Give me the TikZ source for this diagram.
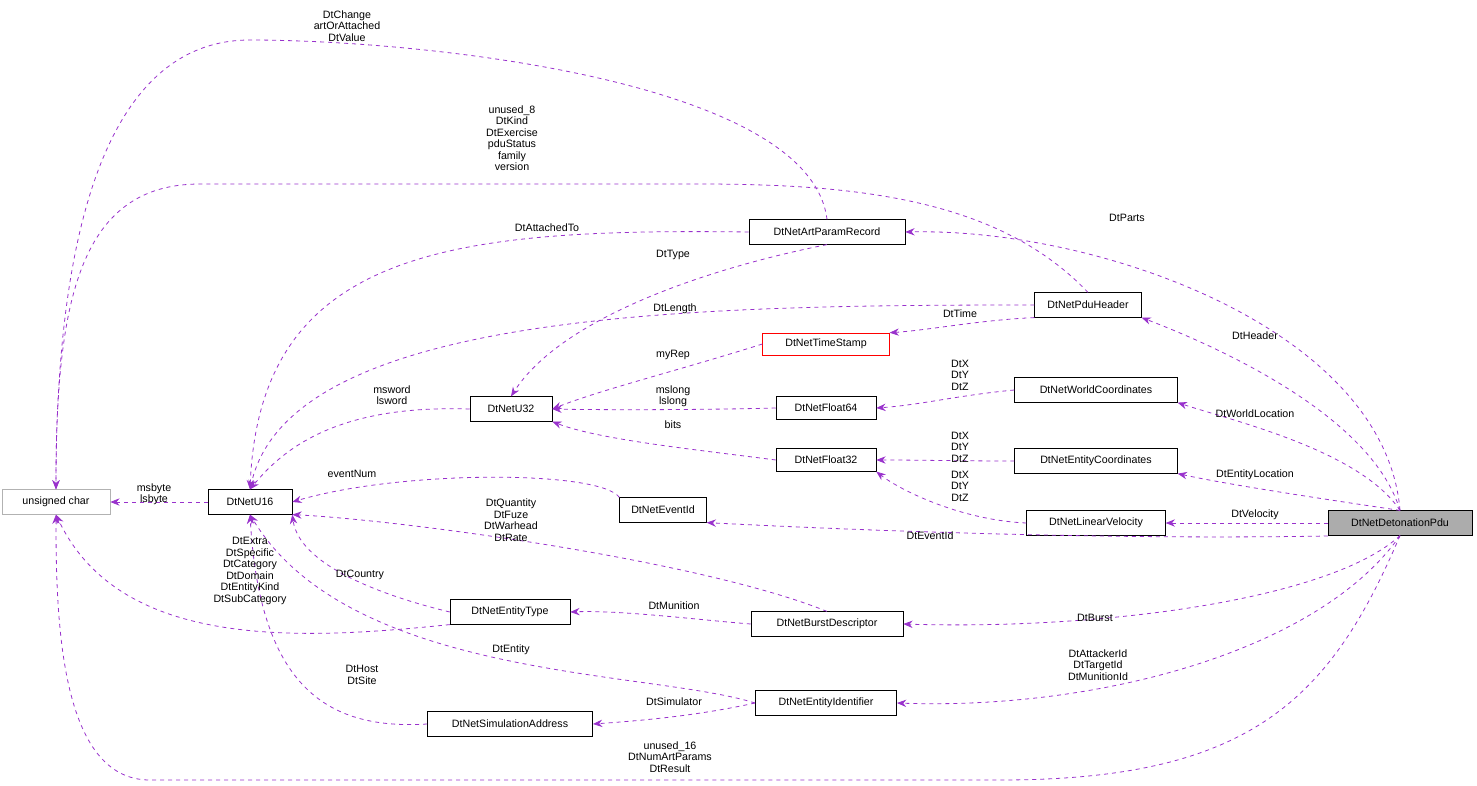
\documentclass[tikz,border=0pt]{standalone}
\usepackage{fontspec}
\setmainfont{Liberation Sans}
\usetikzlibrary{arrows.meta}
\definecolor{edgec}{RGB}{153,50,204}
\begin{document}
\begin{tikzpicture}[x=0.75pt,y=-0.75pt,
 box/.style={draw=black,fill=white,inner sep=0pt,minimum height=18.5pt,font=\fontsize{8}{9}\selectfont},
 e/.style={draw=edgec,dashed,-{Stealth[length=7pt,width=5.5pt]},line width=0.6pt},
 lab/.style={font=\fontsize{8}{8.6}\selectfont,align=center,inner sep=0pt}]
\useasboundingbox (0,0) rectangle (1477,785);
\node[box,draw=gray!60,minimum width=81pt] (uc) at (56,502) {unsigned char};
\node[box,minimum width=63pt] (u16) at (250,502) {DtNetU16};
\node[box,minimum width=61.5pt] (u32) at (511,409) {DtNetU32};
\node[box,minimum width=117pt] (art) at (827,232) {DtNetArtParamRecord};
\node[box,minimum width=80pt] (hdr) at (1088,305) {DtNetPduHeader};
\node[box,draw=red,minimum width=95pt,minimum height=16.5pt] (ts) at (826,344) {DtNetTimeStamp};
\node[box,minimum width=75pt,minimum height=17pt] (f64) at (826,408) {DtNetFloat64};
\node[box,minimum width=122pt] (wc) at (1096,390) {DtNetWorldCoordinates};
\node[box,minimum width=75pt,minimum height=17pt] (f32) at (826,460) {DtNetFloat32};
\node[box,minimum width=122pt] (ec) at (1096,461) {DtNetEntityCoordinates};
\node[box,minimum width=65pt] (eid) at (663,510) {DtNetEventId};
\node[box,minimum width=104pt] (lv) at (1096,523) {DtNetLinearVelocity};
\node[box,fill=gray!65,minimum width=108pt] (pdu) at (1400,523) {DtNetDetonationPdu};
\node[box,minimum width=90pt] (et) at (510,612) {DtNetEntityType};
\node[box,minimum width=114pt] (bd) at (827,624) {DtNetBurstDescriptor};
\node[box,minimum width=106pt] (ei) at (826,703) {DtNetEntityIdentifier};
\node[box,minimum width=124pt] (sa) at (510,724) {DtNetSimulationAddress};

\draw[e] (pdu.north) .. controls (1385,330) and (1100,228) .. (art.east);
\draw[e] (pdu.north) .. controls (1370,410) and (1200,340) .. (hdr.south east);
\draw[e] (pdu.north) .. controls (1360,450) and (1230,420) .. (wc.south east);
\draw[e] (pdu.north) .. controls (1330,500) and (1230,485) .. (ec.south east);
\draw[e] (pdu.west) -- (lv.east);
\draw[e] (pdu.west|-0,536) .. controls (1100,540) and (850,530) .. (eid.south east);
\draw[e] (pdu.south) .. controls (1330,600) and (1100,630) .. (bd.east);
\draw[e] (pdu.south) .. controls (1320,650) and (1100,710) .. (ei.east);
\draw[e] (pdu.south) .. controls (1330,700) and (1250,780) .. (1000,780) -- (150,780) .. controls (60,780) and (56,620) .. (uc.south);
\draw[e] (art.north) .. controls (810,80) and (420,40) .. (250,40) .. controls (100,40) and (56,250) .. (uc.north);
\draw[e] (hdr.north) .. controls (1000,200) and (860,184) .. (700,184) -- (200,184) .. controls (80,184) and (56,300) .. (uc.north);
\draw[e] (art.west) .. controls (450,228) and (260,250) .. (u16.north);
\draw[e] (hdr.west) .. controls (700,305) and (290,310) .. (u16.north);
\draw[e] (art.south) .. controls (700,270) and (560,320) .. (u32.north);
\draw[e] (hdr.south west) .. controls (980,320) and (930,330) .. (ts.north east);
\draw[e] (ts.west) .. controls (680,370) and (600,390) .. (u32.east);
\draw[e] (f64.west) .. controls (700,410) and (600,410) .. (u32.east);
\draw[e] (f32.west) .. controls (700,450) and (600,440) .. (u32.south east);
\draw[e] (wc.west) .. controls (960,395) and (920,405) .. (f64.east);
\draw[e] (ec.west) .. controls (960,461) and (920,460) .. (f32.east);
\draw[e] (lv.west) .. controls (960,520) and (900,490) .. (f32.south east);
\draw[e] (u32.west) .. controls (350,405) and (290,440) .. (u16.north);
\draw[e] (u16.west) -- (uc.east);
\draw[e] (eid.north west) .. controls (600,470) and (400,470) .. (u16.east);
\draw[e] (bd.north) .. controls (700,560) and (400,520) .. (u16.south east);
\draw[e] (bd.west) .. controls (700,620) and (620,610) .. (et.east);
\draw[e] (et.west) .. controls (400,600) and (300,570) .. (u16.south east);
\draw[e] (et.south west) .. controls (300,640) and (120,650) .. (uc.south);
\draw[e] (ei.west) .. controls (650,670) and (350,680) .. (u16.south);
\draw[e] (ei.west) .. controls (700,715) and (650,720) .. (sa.east);
\draw[e] (sa.west) .. controls (330,730) and (260,690) .. (u16.south);

\node[lab] at (1127,218) {DtParts};
\node[lab] at (1255,336) {DtHeader};
\node[lab] at (1255,414) {DtWorldLocation};
\node[lab] at (1255,475) {DtEntityLocation};
\node[lab] at (1255,515) {DtVelocity};
\node[lab] at (930,536) {DtEventId};
\node[lab] at (1095,618) {DtBurst};
\node[lab] at (1098,665) {DtAttackerId\\DtTargetId\\DtMunitionId};
\node[lab] at (670,757) {unused\_16\\DtNumArtParams\\DtResult};
\node[lab] at (347,26) {DtChange\\artOrAttached\\DtValue};
\node[lab] at (512,138) {unused\_8\\DtKind\\DtExercise\\pduStatus\\family\\version};
\node[lab] at (547,228) {DtAttachedTo};
\node[lab] at (673,255) {DtType};
\node[lab] at (675,309) {DtLength};
\node[lab] at (960,314) {DtTime};
\node[lab] at (673,355) {myRep};
\node[lab] at (673,396) {mslong\\lslong};
\node[lab] at (673,425) {bits};
\node[lab] at (960,375) {DtX\\DtY\\DtZ};
\node[lab] at (960,447) {DtX\\DtY\\DtZ};
\node[lab] at (960,486) {DtX\\DtY\\DtZ};
\node[lab] at (392,395) {msword\\lsword};
\node[lab] at (154,494) {msbyte\\lsbyte};
\node[lab] at (352,474) {eventNum};
\node[lab] at (511,520) {DtQuantity\\DtFuze\\DtWarhead\\DtRate};
\node[lab] at (674,606) {DtMunition};
\node[lab] at (360,575) {DtCountry};
\node[lab] at (250,571) {DtExtra\\DtSpecific\\DtCategory\\DtDomain\\DtEntityKind\\DtSubCategory};
\node[lab] at (511,650) {DtEntity};
\node[lab] at (674,702) {DtSimulator};
\node[lab] at (362,675) {DtHost\\DtSite};
\end{tikzpicture}
\end{document}
